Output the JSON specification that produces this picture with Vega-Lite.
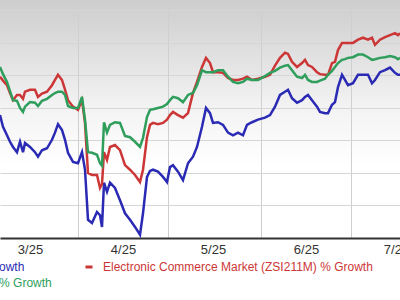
{
  "$schema": "https://vega.github.io/schema/vega-lite/v6.json",
  "width": 400,
  "height": 238,
  "autosize": {"type": "none"},
  "padding": {"top": 0, "left": 0, "right": 0, "bottom": 62},
  "background": "#ffffff",
  "config": {
    "font": "Liberation Sans",
    "view": {
      "stroke": null,
      "fill": {"gradient": "linear", "x1": 0, "y1": 0, "x2": 0, "y2": 1,
        "stops": [{"offset": 0, "color": "#cdcdcd"}, {"offset": 0.45, "color": "#f3f3f3"}, {"offset": 0.7, "color": "#ffffff"}, {"offset": 1, "color": "#ffffff"}]}
    }
  },
  "data": {"values": [
    {"date":"2025-03-06T00:00","series":"stock","value":-1.1},{"date":"2025-03-06T00:00","series":"market","value":4.8},{"date":"2025-03-06T00:00","series":"sector","value":6.3},
    {"date":"2025-03-07T00:00","series":"stock","value":-2.9},{"date":"2025-03-07T00:00","series":"market","value":4.2},{"date":"2025-03-07T00:00","series":"sector","value":5.2},
    {"date":"2025-03-08T08:00","series":"stock","value":-4.2},{"date":"2025-03-08T08:00","series":"market","value":3.5},{"date":"2025-03-08T08:00","series":"sector","value":4.0},
    {"date":"2025-03-09T08:00","series":"stock","value":-5.2},{"date":"2025-03-09T08:00","series":"market","value":2.3},{"date":"2025-03-09T08:00","series":"sector","value":2.6},
    {"date":"2025-03-10T08:00","series":"stock","value":-6.0},{"date":"2025-03-10T08:00","series":"market","value":1.2},{"date":"2025-03-10T08:00","series":"sector","value":1.2},
    {"date":"2025-03-11T16:00","series":"stock","value":-6.8},{"date":"2025-03-11T16:00","series":"market","value":2.0},{"date":"2025-03-11T16:00","series":"sector","value":1.1},
    {"date":"2025-03-12T16:00","series":"stock","value":-5.2},{"date":"2025-03-12T16:00","series":"market","value":2.0},{"date":"2025-03-12T16:00","series":"sector","value":0},
    {"date":"2025-03-13T16:00","series":"stock","value":-6.8},{"date":"2025-03-13T16:00","series":"market","value":1.4},{"date":"2025-03-13T16:00","series":"sector","value":-0.6},
    {"date":"2025-03-14T08:00","series":"stock","value":-5.4},{"date":"2025-03-14T08:00","series":"market","value":2.5},{"date":"2025-03-14T08:00","series":"sector","value":0.2},
    {"date":"2025-03-16T00:00","series":"stock","value":-6.0},{"date":"2025-03-16T00:00","series":"market","value":2.8},{"date":"2025-03-16T00:00","series":"sector","value":0.9},
    {"date":"2025-03-17T16:00","series":"stock","value":-6.8},{"date":"2025-03-17T16:00","series":"market","value":2.8},{"date":"2025-03-17T16:00","series":"sector","value":0.8},
    {"date":"2025-03-18T16:00","series":"stock","value":-7.5},{"date":"2025-03-18T16:00","series":"market","value":1.7},{"date":"2025-03-18T16:00","series":"sector","value":0.3},
    {"date":"2025-03-20T00:00","series":"stock","value":-6.5},{"date":"2025-03-20T00:00","series":"market","value":2.2},{"date":"2025-03-20T00:00","series":"sector","value":1.1},
    {"date":"2025-03-21T16:00","series":"stock","value":-6.2},{"date":"2025-03-21T16:00","series":"market","value":2.5},{"date":"2025-03-21T16:00","series":"sector","value":1.4},
    {"date":"2025-03-23T08:00","series":"stock","value":-4.9},{"date":"2025-03-23T08:00","series":"market","value":3.5},{"date":"2025-03-23T08:00","series":"sector","value":2.0},
    {"date":"2025-03-24T08:00","series":"stock","value":-3.8},{"date":"2025-03-24T08:00","series":"market","value":4.3},{"date":"2025-03-24T08:00","series":"sector","value":2.3},
    {"date":"2025-03-25T08:00","series":"stock","value":-2.5},{"date":"2025-03-25T08:00","series":"market","value":5.1},{"date":"2025-03-25T08:00","series":"sector","value":2.5},
    {"date":"2025-03-26T16:00","series":"stock","value":-3.4},{"date":"2025-03-26T16:00","series":"market","value":4.3},{"date":"2025-03-26T16:00","series":"sector","value":2.5},
    {"date":"2025-03-27T16:00","series":"stock","value":-4.9},{"date":"2025-03-27T16:00","series":"market","value":2.8},{"date":"2025-03-27T16:00","series":"sector","value":2.0},
    {"date":"2025-03-28T16:00","series":"stock","value":-6.9},{"date":"2025-03-28T16:00","series":"market","value":1.2},{"date":"2025-03-28T16:00","series":"sector","value":0.3},
    {"date":"2025-03-30T08:00","series":"stock","value":-8.3},{"date":"2025-03-30T08:00","series":"market","value":0.2},{"date":"2025-03-30T08:00","series":"sector","value":0},
    {"date":"2025-04-01T00:00","series":"stock","value":-8.5},{"date":"2025-04-01T00:00","series":"market","value":-0.3},{"date":"2025-04-01T00:00","series":"sector","value":0},
    {"date":"2025-04-02T08:00","series":"stock","value":-6.8},{"date":"2025-04-02T08:00","series":"market","value":1.2},{"date":"2025-04-02T08:00","series":"sector","value":1.7},
    {"date":"2025-04-03T08:00","series":"stock","value":-9.5},{"date":"2025-04-03T08:00","series":"market","value":-2.3},{"date":"2025-04-03T08:00","series":"sector","value":-1.8},
    {"date":"2025-04-04T08:00","series":"stock","value":-17.2},{"date":"2025-04-04T08:00","series":"market","value":-10.0},{"date":"2025-04-04T08:00","series":"sector","value":-6.8},
    {"date":"2025-04-05T16:00","series":"stock","value":-17.7},{"date":"2025-04-05T16:00","series":"market","value":-10.3},{"date":"2025-04-05T16:00","series":"sector","value":-6.9},
    {"date":"2025-04-07T08:00","series":"stock","value":-16.0},{"date":"2025-04-07T08:00","series":"market","value":-10.3},{"date":"2025-04-07T08:00","series":"sector","value":-7.2},
    {"date":"2025-04-08T08:00","series":"stock","value":-16.5},{"date":"2025-04-08T08:00","series":"market","value":-12.3},{"date":"2025-04-08T08:00","series":"sector","value":-8.5},
    {"date":"2025-04-09T00:00","series":"stock","value":-18.3},{"date":"2025-04-09T00:00","series":"market","value":-11.7},{"date":"2025-04-09T00:00","series":"sector","value":-8.9},
    {"date":"2025-04-09T16:00","series":"stock","value":-11.5},{"date":"2025-04-09T16:00","series":"market","value":-6.8},{"date":"2025-04-09T16:00","series":"sector","value":-2.2},
    {"date":"2025-04-10T16:00","series":"stock","value":-12.9},{"date":"2025-04-10T16:00","series":"market","value":-8.0},{"date":"2025-04-10T16:00","series":"sector","value":-3.8},
    {"date":"2025-04-11T16:00","series":"stock","value":-11.5},{"date":"2025-04-11T16:00","series":"market","value":-6.0},{"date":"2025-04-11T16:00","series":"sector","value":-2.6},
    {"date":"2025-04-13T08:00","series":"stock","value":-12.3},{"date":"2025-04-13T08:00","series":"market","value":-5.7},{"date":"2025-04-13T08:00","series":"sector","value":-2.2},
    {"date":"2025-04-15T00:00","series":"stock","value":-14.2},{"date":"2025-04-15T00:00","series":"market","value":-6.5},{"date":"2025-04-15T00:00","series":"sector","value":-2.3},
    {"date":"2025-04-16T16:00","series":"stock","value":-16.2},{"date":"2025-04-16T16:00","series":"market","value":-8.8},{"date":"2025-04-16T16:00","series":"sector","value":-4.3},
    {"date":"2025-04-18T08:00","series":"stock","value":-17.2},{"date":"2025-04-18T08:00","series":"market","value":-9.5},{"date":"2025-04-18T08:00","series":"sector","value":-4.5},
    {"date":"2025-04-20T00:00","series":"stock","value":-18.3},{"date":"2025-04-20T00:00","series":"market","value":-10.3},{"date":"2025-04-20T00:00","series":"sector","value":-5.2},
    {"date":"2025-04-21T16:00","series":"stock","value":-19.5},{"date":"2025-04-21T16:00","series":"market","value":-11.4},{"date":"2025-04-21T16:00","series":"sector","value":-6.0},
    {"date":"2025-04-22T16:00","series":"stock","value":-16.2},{"date":"2025-04-22T16:00","series":"market","value":-9.5},{"date":"2025-04-22T16:00","series":"sector","value":-4.6},
    {"date":"2025-04-24T00:00","series":"stock","value":-10.6},{"date":"2025-04-24T00:00","series":"market","value":-4.5},{"date":"2025-04-24T00:00","series":"sector","value":-1.4},
    {"date":"2025-04-25T00:00","series":"stock","value":-9.7},{"date":"2025-04-25T00:00","series":"market","value":-2.6},{"date":"2025-04-25T00:00","series":"sector","value":-0.3},
    {"date":"2025-04-26T00:00","series":"stock","value":-9.5},{"date":"2025-04-26T00:00","series":"market","value":-2.3},{"date":"2025-04-26T00:00","series":"sector","value":-0.2},
    {"date":"2025-04-27T16:00","series":"stock","value":-9.8},{"date":"2025-04-27T16:00","series":"market","value":-2.5},{"date":"2025-04-27T16:00","series":"sector","value":0},
    {"date":"2025-04-29T08:00","series":"stock","value":-10.6},{"date":"2025-04-29T08:00","series":"market","value":-2.3},{"date":"2025-04-29T08:00","series":"sector","value":0.2},
    {"date":"2025-04-30T16:00","series":"stock","value":-11.4},{"date":"2025-04-30T16:00","series":"market","value":-1.8},{"date":"2025-04-30T16:00","series":"sector","value":0.6},
    {"date":"2025-05-01T16:00","series":"stock","value":-9.1},{"date":"2025-05-01T16:00","series":"market","value":-1.1},{"date":"2025-05-01T16:00","series":"sector","value":1.2},
    {"date":"2025-05-02T16:00","series":"stock","value":-8.8},{"date":"2025-05-02T16:00","series":"market","value":-0.6},{"date":"2025-05-02T16:00","series":"sector","value":1.7},
    {"date":"2025-05-04T08:00","series":"stock","value":-9.8},{"date":"2025-05-04T08:00","series":"market","value":-1.1},{"date":"2025-05-04T08:00","series":"sector","value":1.5},
    {"date":"2025-05-06T00:00","series":"stock","value":-11.1},{"date":"2025-05-06T00:00","series":"market","value":-1.5},{"date":"2025-05-06T00:00","series":"sector","value":0.9},
    {"date":"2025-05-07T16:00","series":"stock","value":-8.5},{"date":"2025-05-07T16:00","series":"market","value":-0.8},{"date":"2025-05-07T16:00","series":"sector","value":2.0},
    {"date":"2025-05-09T08:00","series":"stock","value":-7.5},{"date":"2025-05-09T08:00","series":"market","value":2.3},{"date":"2025-05-09T08:00","series":"sector","value":2.3},
    {"date":"2025-05-10T16:00","series":"stock","value":-6.0},{"date":"2025-05-10T16:00","series":"market","value":4.0},{"date":"2025-05-10T16:00","series":"sector","value":3.5},
    {"date":"2025-05-12T08:00","series":"stock","value":-2.9},{"date":"2025-05-12T08:00","series":"market","value":6.3},{"date":"2025-05-12T08:00","series":"sector","value":5.8},
    {"date":"2025-05-13T16:00","series":"stock","value":0},{"date":"2025-05-13T16:00","series":"market","value":7.7},{"date":"2025-05-13T16:00","series":"sector","value":5.5},
    {"date":"2025-05-15T00:00","series":"stock","value":-0.8},{"date":"2025-05-15T00:00","series":"market","value":6.9},{"date":"2025-05-15T00:00","series":"sector","value":5.5},
    {"date":"2025-05-16T00:00","series":"stock","value":-2.3},{"date":"2025-05-16T00:00","series":"market","value":5.5},{"date":"2025-05-16T00:00","series":"sector","value":5.5},
    {"date":"2025-05-17T16:00","series":"stock","value":-2.2},{"date":"2025-05-17T16:00","series":"market","value":5.5},{"date":"2025-05-17T16:00","series":"sector","value":5.8},
    {"date":"2025-05-19T08:00","series":"stock","value":-2.6},{"date":"2025-05-19T08:00","series":"market","value":5.4},{"date":"2025-05-19T08:00","series":"sector","value":5.8},
    {"date":"2025-05-21T00:00","series":"stock","value":-3.8},{"date":"2025-05-21T00:00","series":"market","value":4.6},{"date":"2025-05-21T00:00","series":"sector","value":4.8},
    {"date":"2025-05-22T16:00","series":"stock","value":-4.2},{"date":"2025-05-22T16:00","series":"market","value":4.3},{"date":"2025-05-22T16:00","series":"sector","value":4.0},
    {"date":"2025-05-24T08:00","series":"stock","value":-3.8},{"date":"2025-05-24T08:00","series":"market","value":4.3},{"date":"2025-05-24T08:00","series":"sector","value":3.8},
    {"date":"2025-05-26T00:00","series":"stock","value":-4.2},{"date":"2025-05-26T00:00","series":"market","value":4.5},{"date":"2025-05-26T00:00","series":"sector","value":4.0},
    {"date":"2025-05-27T08:00","series":"stock","value":-2.6},{"date":"2025-05-27T08:00","series":"market","value":4.8},{"date":"2025-05-27T08:00","series":"sector","value":4.5},
    {"date":"2025-05-29T00:00","series":"stock","value":-2.2},{"date":"2025-05-29T00:00","series":"market","value":4.3},{"date":"2025-05-29T00:00","series":"sector","value":4.3},
    {"date":"2025-05-31T00:00","series":"stock","value":-1.8},{"date":"2025-05-31T00:00","series":"market","value":4.5},{"date":"2025-05-31T00:00","series":"sector","value":4.3},
    {"date":"2025-06-02T08:00","series":"stock","value":-1.5},{"date":"2025-06-02T08:00","series":"market","value":4.8},{"date":"2025-06-02T08:00","series":"sector","value":4.9},
    {"date":"2025-06-04T00:00","series":"stock","value":-1.1},{"date":"2025-06-04T00:00","series":"market","value":5.1},{"date":"2025-06-04T00:00","series":"sector","value":5.4},
    {"date":"2025-06-05T16:00","series":"stock","value":0.2},{"date":"2025-06-05T16:00","series":"market","value":6.5},{"date":"2025-06-05T16:00","series":"sector","value":5.7},
    {"date":"2025-06-07T08:00","series":"stock","value":2.0},{"date":"2025-06-07T08:00","series":"market","value":7.7},{"date":"2025-06-07T08:00","series":"sector","value":6.2},
    {"date":"2025-06-09T00:00","series":"stock","value":2.5},{"date":"2025-06-09T00:00","series":"market","value":8.5},{"date":"2025-06-09T00:00","series":"sector","value":6.5},
    {"date":"2025-06-10T00:00","series":"stock","value":2.8},{"date":"2025-06-10T00:00","series":"market","value":8.3},{"date":"2025-06-10T00:00","series":"sector","value":6.6},
    {"date":"2025-06-11T08:00","series":"stock","value":1.5},{"date":"2025-06-11T08:00","series":"market","value":7.1},{"date":"2025-06-11T08:00","series":"sector","value":5.8},
    {"date":"2025-06-13T00:00","series":"stock","value":0.8},{"date":"2025-06-13T00:00","series":"market","value":6.3},{"date":"2025-06-13T00:00","series":"sector","value":4.8},
    {"date":"2025-06-14T16:00","series":"stock","value":1.2},{"date":"2025-06-14T16:00","series":"market","value":6.9},{"date":"2025-06-14T16:00","series":"sector","value":4.6},
    {"date":"2025-06-15T16:00","series":"stock","value":1.7},{"date":"2025-06-15T16:00","series":"market","value":7.4},{"date":"2025-06-15T16:00","series":"sector","value":5.1},
    {"date":"2025-06-16T16:00","series":"stock","value":2.0},{"date":"2025-06-16T16:00","series":"market","value":6.6},{"date":"2025-06-16T16:00","series":"sector","value":4.3},
    {"date":"2025-06-18T00:00","series":"stock","value":1.2},{"date":"2025-06-18T00:00","series":"market","value":6.3},{"date":"2025-06-18T00:00","series":"sector","value":4.0},
    {"date":"2025-06-19T16:00","series":"stock","value":0.2},{"date":"2025-06-19T16:00","series":"market","value":5.5},{"date":"2025-06-19T16:00","series":"sector","value":4.0},
    {"date":"2025-06-20T16:00","series":"stock","value":-0.6},{"date":"2025-06-20T16:00","series":"market","value":5.2},{"date":"2025-06-20T16:00","series":"sector","value":4.2},
    {"date":"2025-06-22T08:00","series":"stock","value":-0.8},{"date":"2025-06-22T08:00","series":"market","value":5.1},{"date":"2025-06-22T08:00","series":"sector","value":4.5},
    {"date":"2025-06-23T08:00","series":"stock","value":-0.8},{"date":"2025-06-23T08:00","series":"market","value":5.1},{"date":"2025-06-23T08:00","series":"sector","value":5.1},
    {"date":"2025-06-24T16:00","series":"stock","value":0.5},{"date":"2025-06-24T16:00","series":"market","value":6.9},{"date":"2025-06-24T16:00","series":"sector","value":5.7},
    {"date":"2025-06-25T16:00","series":"stock","value":0.9},{"date":"2025-06-25T16:00","series":"market","value":7.1},{"date":"2025-06-25T16:00","series":"sector","value":6.3},
    {"date":"2025-06-26T16:00","series":"stock","value":3.2},{"date":"2025-06-26T16:00","series":"market","value":8.9},{"date":"2025-06-26T16:00","series":"sector","value":6.9},
    {"date":"2025-06-28T00:00","series":"stock","value":5.1},{"date":"2025-06-28T00:00","series":"market","value":10.0},{"date":"2025-06-28T00:00","series":"sector","value":7.4},
    {"date":"2025-06-29T00:00","series":"stock","value":4.3},{"date":"2025-06-29T00:00","series":"market","value":10.0},{"date":"2025-06-29T00:00","series":"sector","value":7.5},
    {"date":"2025-06-30T00:00","series":"stock","value":3.5},{"date":"2025-06-30T00:00","series":"market","value":10.0},{"date":"2025-06-30T00:00","series":"sector","value":7.7},
    {"date":"2025-07-01T16:00","series":"stock","value":3.8},{"date":"2025-07-01T16:00","series":"market","value":10.0},{"date":"2025-07-01T16:00","series":"sector","value":7.8},
    {"date":"2025-07-03T08:00","series":"stock","value":5.1},{"date":"2025-07-03T08:00","series":"market","value":10.5},{"date":"2025-07-03T08:00","series":"sector","value":8.2},
    {"date":"2025-07-05T00:00","series":"stock","value":5.1},{"date":"2025-07-05T00:00","series":"market","value":10.8},{"date":"2025-07-05T00:00","series":"sector","value":8.2},
    {"date":"2025-07-06T16:00","series":"stock","value":5.1},{"date":"2025-07-06T16:00","series":"market","value":10.5},{"date":"2025-07-06T16:00","series":"sector","value":7.8},
    {"date":"2025-07-08T00:00","series":"stock","value":3.8},{"date":"2025-07-08T00:00","series":"market","value":10.8},{"date":"2025-07-08T00:00","series":"sector","value":7.4},
    {"date":"2025-07-09T00:00","series":"stock","value":4.3},{"date":"2025-07-09T00:00","series":"market","value":9.7},{"date":"2025-07-09T00:00","series":"sector","value":7.5},
    {"date":"2025-07-10T16:00","series":"stock","value":5.5},{"date":"2025-07-10T16:00","series":"market","value":10.5},{"date":"2025-07-10T16:00","series":"sector","value":7.7},
    {"date":"2025-07-12T08:00","series":"stock","value":5.8},{"date":"2025-07-12T08:00","series":"market","value":10.9},{"date":"2025-07-12T08:00","series":"sector","value":7.8},
    {"date":"2025-07-14T00:00","series":"stock","value":6.2},{"date":"2025-07-14T00:00","series":"market","value":11.2},{"date":"2025-07-14T00:00","series":"sector","value":8.0},
    {"date":"2025-07-15T16:00","series":"stock","value":5.4},{"date":"2025-07-15T16:00","series":"market","value":11.5},{"date":"2025-07-15T16:00","series":"sector","value":7.8},
    {"date":"2025-07-16T16:00","series":"stock","value":5.1},{"date":"2025-07-16T16:00","series":"market","value":11.2},{"date":"2025-07-16T16:00","series":"sector","value":7.5},
    {"date":"2025-07-17T08:00","series":"stock","value":5.1},{"date":"2025-07-17T08:00","series":"market","value":11.5},{"date":"2025-07-17T08:00","series":"sector","value":7.7}
  ]},
  "mark": {"type": "line", "strokeWidth": 2.5, "clip": true},
  "encoding": {
    "x": {
      "field": "date", "type": "temporal",
      "scale": {"domain": [{"year": 2025, "month": 3, "date": 6}, {"year": 2025, "month": 7, "date": 17, "hours": 8}]},
      "axis": {
        "title": null,
        "values": [{"year": 2025, "month": 3, "date": 16}, {"year": 2025, "month": 4, "date": 16}, {"year": 2025, "month": 5, "date": 16}, {"year": 2025, "month": 6, "date": 16}, {"year": 2025, "month": 7, "date": 16}],
        "format": "%-m/%y",
        "tickOffset": -45,
        "labelOffset": 45,
        "labelFlush": false,
        "labelOverlap": false,
        "labelBound": false,
        "labelFontSize": 13,
        "labelColor": "#333333",
        "labelPadding": 5,
        "ticks": false,
        "domainColor": "#333333",
        "domainWidth": 2,
        "grid": true,
        "gridColor": "#cfcfcf",
        "gridWidth": 1
      }
    },
    "y": {
      "field": "value", "type": "quantitative",
      "scale": {"domain": [-20, 16.6], "nice": false, "zero": false},
      "axis": {"title": null, "values": [-20, -15, -10, -5, 0, 5, 10, 15], "labels": false, "ticks": false, "domain": false, "grid": true, "gridColor": "#d6d6d6"}
    },
    "color": {
      "field": "series", "type": "nominal",
      "scale": {"domain": ["stock", "market", "sector"], "range": ["#2a2ab4", "#cc3636", "#2f9e5c"]},
      "legend": {
        "title": null,
        "orient": "none",
        "direction": "horizontal",
        "legendX": -193,
        "legendY": 261,
        "columns": 2,
        "columnPadding": 27,
        "rowPadding": 4,
        "symbolType": "stroke",
        "symbolSize": 50,
        "symbolStrokeWidth": 3,
        "labelFontSize": 12,
        "labelOffset": 8,
        "labelLimit": 400,
        "labelExpr": "datum.value === 'stock' ? 'Amazon.com, Inc. (AMZN) % Growth' : datum.value === 'market' ? 'Electronic Commerce Market (ZSI211M) % Growth' : 'Retail-Wholesale Sector (ZS16) % Growth'",
        "encode": {"labels": {"update": {"fill": {"scale": "color", "field": "value"}}}}
      }
    }
  }
}
